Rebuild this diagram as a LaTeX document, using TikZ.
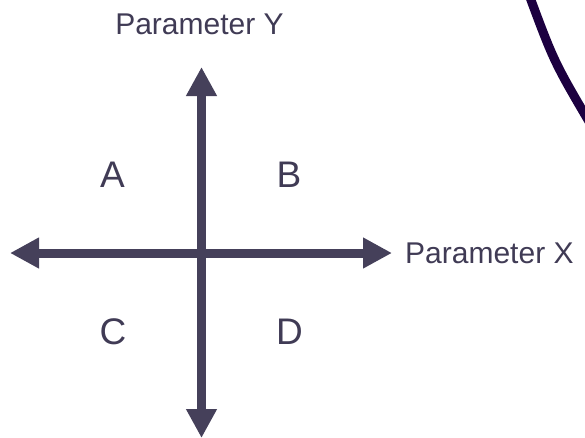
\documentclass[tikz,border=0pt]{standalone}
\usepackage{fontspec}
\setmainfont{Liberation Sans}
\usepackage{tikz}
\usetikzlibrary{arrows.meta, positioning}
\definecolor{axgray}  {HTML}{45405A}
\definecolor{txtgray} {HTML}{403B55}
\definecolor{arcpurple}{HTML}{1C0040}

\begin{document}
\begin{tikzpicture}[
  x=1pt, y=-1pt,
  axis/.style={line width=9pt, draw=axgray,
               {Triangle[length=29pt, width=29pt]}-{Triangle[length=29pt, width=29pt]}},
  param/.style={font=\fontsize{30}{34}\selectfont, text=txtgray, inner sep=0pt},
  quad/.style={font=\fontsize{37}{42}\selectfont, text=txtgray, inner sep=0pt},
  arc/.style={line width=9pt, draw=arcpurple},
]
\useasboundingbox (0,0) rectangle (585,437);

% -- Axis end points ----------------------------
\coordinate (xl) at (10, 253);
\coordinate (xr) at (392, 253);
\coordinate (yt) at (201.5, 67);
\coordinate (yb) at (201.5, 438);

% -- Axes ---------------------------------------
\draw[axis] (xl) -- (xr);
\draw[axis] (yt) -- (yb);

% -- Axis labels --------------------------------
\node[param, anchor=west, right=13pt of xr] (px) {Parameter X};
\node[param, anchor=south, above=32pt of yt, xshift=-2pt] (py) {Parameter Y};

% -- Quadrants ----------------------------------
\node[quad] (qa) at (112.5, 175) {A};
\node[quad] (qb) at (289, 175)   {B};
\node[quad] (qc) at (113, 331.5) {C};
\node[quad] (qd) at (289.5, 331.5) {D};

% -- Arc at the top right -----------------------
\begin{scope}
  \clip (0,0) rectangle (585,437);
  \draw[arc] (529.1,-5) .. controls (554.2,62.5) .. (594,130);
\end{scope}

\end{tikzpicture}
\end{document}
